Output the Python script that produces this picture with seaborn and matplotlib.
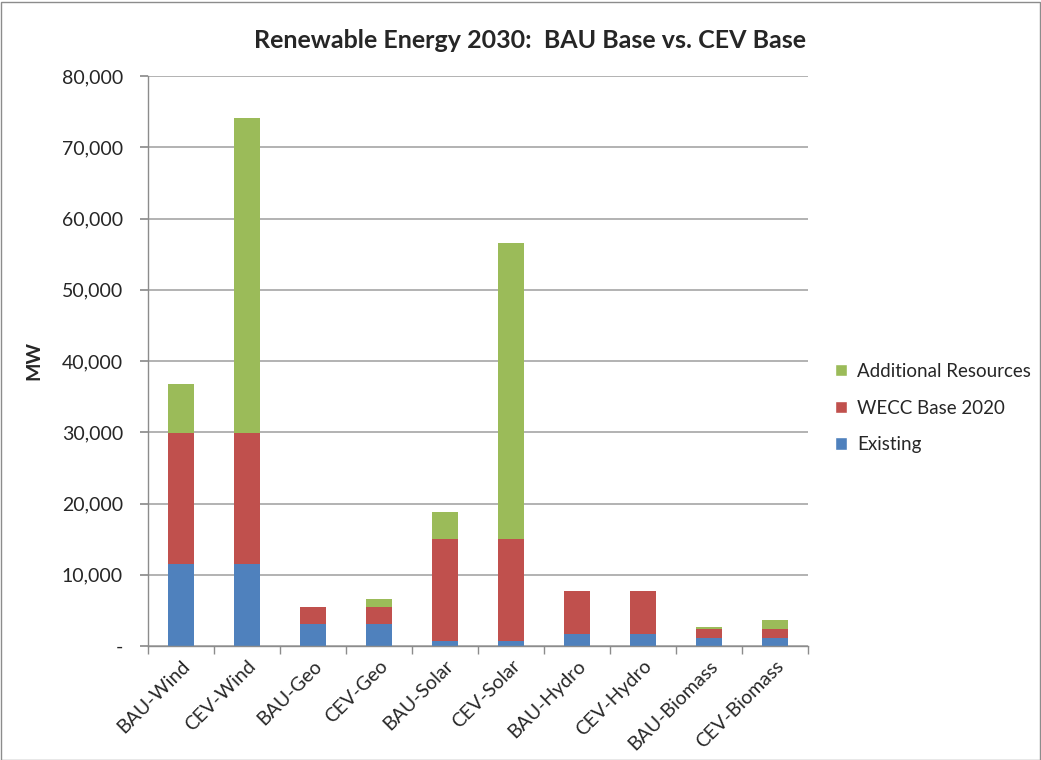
import matplotlib
matplotlib.use("Agg")
import matplotlib.pyplot as plt
import seaborn as sns
import numpy as np
import pandas as pd
from matplotlib.patches import Patch, Rectangle
from matplotlib.ticker import FuncFormatter, FixedLocator

categories = ["BAU-Wind", "CEV-Wind", "BAU-Geo", "CEV-Geo", "BAU-Solar",
              "CEV-Solar", "BAU-Hydro", "CEV-Hydro", "BAU-Biomass", "CEV-Biomass"]
existing = [11470, 11470, 3090, 3090, 660, 660, 1680, 1680, 1170, 1170]
wecc_base_2020 = [18430, 18430, 2430, 2430, 14310, 14310, 6090, 6090, 1260, 1260]
additional = [6830, 44200, 0, 1080, 3880, 41630, 0, 0, 190, 1220]

series_names = ["Existing", "WECC Base 2020", "Additional Resources"]
colors = ["#4F81BD", "#C0504D", "#9BBB59"]

sns.set_theme(style="white")
plt.rcParams["font.family"] = ["Lato", "DejaVu Sans"]

fig = plt.figure(figsize=(10.41, 7.6), dpi=100)
ax = fig.add_axes([148/1041, 1-646/760, (808-148)/1041, (646-76)/760])

lvl1 = np.array(existing)
lvl2 = lvl1 + np.array(wecc_base_2020)
lvl3 = lvl2 + np.array(additional)

for vals, col in [(lvl3, colors[2]), (lvl2, colors[1]), (lvl1, colors[0])]:
    df = pd.DataFrame({"cat": categories, "val": vals})
    sns.barplot(data=df, x="cat", y="val", color=col, width=0.4, ax=ax,
                saturation=1, edgecolor="none", linewidth=0, order=categories)

ax.set_ylim(0, 80000)
ax.set_xlim(-0.5, len(categories) - 0.5)
ax.set_yticks(np.arange(0, 80001, 10000))
ax.yaxis.set_major_formatter(FuncFormatter(lambda v, p: "-" if v == 0 else f"{int(v):,}"))
ax.yaxis.grid(True, color="#A6A6A6", linewidth=1.2)
ax.set_axisbelow(True)
for s in ["top", "right"]:
    ax.spines[s].set_visible(False)
for s in ["left", "bottom"]:
    ax.spines[s].set_color("#8C8C8C")
    ax.spines[s].set_linewidth(1.0)

ax.set_xticks(range(len(categories)))
ax.set_xticklabels(categories, rotation=45, ha="right", rotation_mode="anchor", fontsize=14)
ax.tick_params(axis="x", length=0, pad=8)
ax.xaxis.set_minor_locator(FixedLocator(np.arange(-0.5, len(categories), 1.0)))
ax.tick_params(axis="x", which="minor", length=6, color="#8C8C8C", direction="out", bottom=True)
ax.tick_params(axis="y", length=6, color="#8C8C8C", direction="out", left=True, labelsize=14, pad=12)
ax.set_xlabel("")
ax.set_ylabel("MW", fontsize=14, fontweight="bold", labelpad=14)

fig.text(530/1041, 1-40/760, "Renewable Energy 2030:  BAU Base vs. CEV Base",
         ha="center", va="center", fontsize=18, fontweight="bold")

handles = [Patch(facecolor=colors[2], label=series_names[2]),
           Patch(facecolor=colors[1], label=series_names[1]),
           Patch(facecolor=colors[0], label=series_names[0])]
fig.legend(handles=handles, loc="center left", bbox_to_anchor=(818/1041, 1-408/760),
           frameon=False, fontsize=13.5, handlelength=0.65, handleheight=0.65,
           handletextpad=0.55, labelspacing=1.05)

fig.patches.append(Rectangle((0.5/1041, 0.5/760), 1-2/1041, 1-2/760, transform=fig.transFigure,
                             fill=False, edgecolor="#8C8C8C", linewidth=1))

fig.savefig("out.png", dpi=100)
